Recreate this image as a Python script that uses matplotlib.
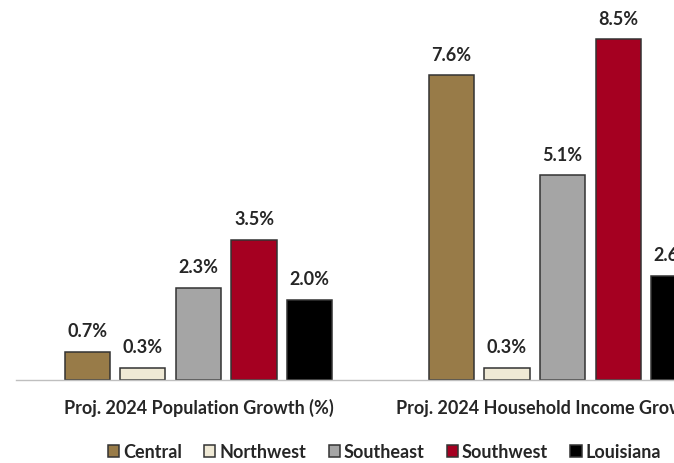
import matplotlib.pyplot as plt
import numpy as np

plt.rcParams['font.family'] = ['Lato', 'DejaVu Sans']

metrics = ['Proj. 2024 Population Growth (%)', 'Proj. 2024 Household Income Growth (%)']
regions = ['Central', 'Northwest', 'Southeast', 'Southwest', 'Louisiana']
values = {
    'Central': [0.7, 7.6],
    'Northwest': [0.3, 0.3],
    'Southeast': [2.3, 5.1],
    'Southwest': [3.5, 8.5],
    'Louisiana': [2.0, 2.6],
}
colors = ['#987B48', '#EFE9D5', '#A5A5A5', '#A50021', '#000000']

fig = plt.figure(figsize=(6.74, 4.64), dpi=100)
ax = fig.add_axes([16 / 674, 83 / 464, 658 / 674, 381 / 464])

x = np.arange(len(metrics))
step = 0.1527
width = 0.124
for i, (reg, col) in enumerate(zip(regions, colors)):
    pos = x + (i - 2) * step
    bars = ax.bar(pos, values[reg], width, color=col, edgecolor='#333333',
                  linewidth=1.1, label=reg)
    for b, v in zip(bars, values[reg]):
        ax.annotate(f'{v:.1f}%', (b.get_x() + b.get_width() / 2, v),
                    xytext=(0, 9), textcoords='offset points',
                    ha='center', va='bottom', fontsize=13, fontweight='bold',
                    color='#262626')

ax.set_xlim(-0.501, 1.306)
ax.set_ylim(0, 9.5)
ax.set_xticks(x)
ax.set_xticklabels(metrics, fontsize=13, fontweight='bold', color='#262626')
ax.tick_params(axis='x', length=0, pad=13)
ax.set_yticks([])
for s in ['top', 'right', 'left']:
    ax.spines[s].set_visible(False)
ax.spines['bottom'].set_color('#BFBFBF')
ax.spines['bottom'].set_linewidth(1)

# legend sits under the plot, starting left of centre
leg = fig.legend(loc='center left', bbox_to_anchor=(108 / 674, 11 / 464), ncol=5,
                 frameon=False, borderpad=0, borderaxespad=0,
                 handlelength=0.62, handleheight=0.62,
                 handletextpad=0.2, columnspacing=1.25,
                 prop={'size': 13, 'weight': 'bold'})
for t in leg.get_texts():
    t.set_color('#262626')

fig.savefig('out.png', dpi=100, facecolor='white')
